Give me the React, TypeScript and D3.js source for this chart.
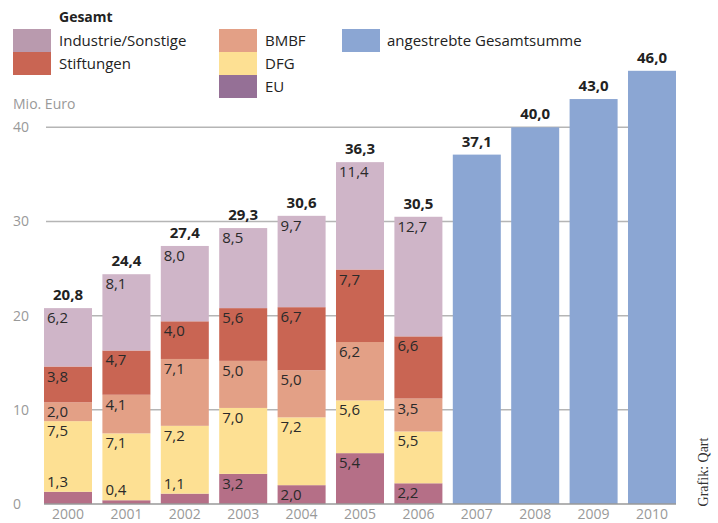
import React from "react";
import * as d3 from "d3";

const years = ["2000","2001","2002","2003","2004","2005","2006","2007","2008","2009","2010"];
const eu = [1.3, 0.4, 1.1, 3.2, 2.0, 5.4, 2.2];
const dfg = [7.5, 7.1, 7.2, 7.0, 7.2, 5.6, 5.5];
const bmbf = [2.0, 4.1, 7.1, 5.0, 5.0, 6.2, 3.5];
const stiftungen = [3.8, 4.7, 4.0, 5.6, 6.7, 7.7, 6.6];
const industrie = [6.2, 8.1, 8.0, 8.5, 9.7, 11.4, 12.7];
const totals = [20.8, 24.4, 27.4, 29.3, 30.6, 36.3, 30.5];
const targets = [37.1, 40.0, 43.0, 46.0];
const yTicks = [0, 10, 20, 30, 40];

const seriesKeys = ["EU", "DFG", "BMBF", "Stiftungen", "Industrie/Sonstige"];
const seriesData = [eu, dfg, bmbf, stiftungen, industrie];
const barColors = ["#b56f87", "#fde093", "#e3a086", "#c96553", "#cfb5c8"];
const legendColors: Record<string, string> = {
  "Industrie/Sonstige": "#b99aae",
  "Stiftungen": "#c96553",
  "BMBF": "#e3a086",
  "DFG": "#fde093",
  "EU": "#957096",
};
const blue = "#8ba6d3";

const fmt = (v: number) => v.toFixed(1).replace(".", ",");
const FONT = "'Open Sans', 'Noto Sans', sans-serif";

export default function App() {
  const W = 718, H = 523;
  const x = d3.scaleBand().domain(years).range([44, 676]).paddingInner(0.178).paddingOuter(0);
  const y = d3.scaleLinear().domain([0, 40]).range([504, 127.3]);
  const bw = x.bandwidth();

  const table = years.slice(0, 7).map((yr, i) => {
    const o: any = { year: yr };
    seriesKeys.forEach((k, j) => (o[k] = seriesData[j][i]));
    return o;
  });
  const stacked = d3.stack().keys(seriesKeys)(table as any);

  return (
    <svg width={W} height={H} style={{ position: "absolute", left: 0, top: 0, fontFamily: FONT }}>
      <rect width={W} height={H} fill="#fff" />
      {/* legend */}
      <text x={59} y={22} fontSize={14} fontWeight="bold" fill="#222">Gesamt</text>
      {[
        { k: "Industrie/Sonstige", sx: 13, sy: 29 },
        { k: "Stiftungen", sx: 13, sy: 52 },
        { k: "BMBF", sx: 219, sy: 29 },
        { k: "DFG", sx: 219, sy: 52 },
        { k: "EU", sx: 219, sy: 75 },
      ].map((l) => (
        <g key={l.k}>
          <rect x={l.sx} y={l.sy} width={38} height={23} fill={legendColors[l.k]} />
          <text x={l.sx + 46} y={l.sy + 17} fontSize={15} fill="#222">{l.k}</text>
        </g>
      ))}
      <rect x={342} y={29} width={38} height={23} fill={blue} />
      <text x={387} y={46} fontSize={15} fill="#222">angestrebte Gesamtsumme</text>

      {/* axis */}
      <text x={13} y={109} fontSize={14} fill="#999">Mio. Euro</text>
      {yTicks.map((t) => (
        <g key={t}>
          {t > 0 && <line x1={46} x2={676} y1={y(t)} y2={y(t)} stroke="#b5b5b5" strokeWidth={1.5} />}
          <text x={13} y={y(t) + 5} fontSize={14} fill="#999">{t}</text>
        </g>
      ))}

      {/* stacked bars */}
      {stacked.map((s, j) => (
        <g key={s.key}>
          {s.map((d: any, i: number) => (
            <rect key={i} x={x(years[i])} y={y(d[1])} width={bw} height={y(d[0]) - y(d[1])} fill={barColors[j]} />
          ))}
        </g>
      ))}
      {stacked.map((s, j) => (
        <g key={s.key + "l"}>
          {s.map((d: any, i: number) => {
            const v = seriesData[j][i];
            const top = y(d[1]);
            const small = j === 0 && v < 1.5;
            return (
              <text key={i} x={(x(years[i]) as number) + 3} y={small ? top - 5 : top + 15} fontSize={15} fill="#2a2a2a">
                {fmt(v)}
              </text>
            );
          })}
        </g>
      ))}
      {totals.map((t, i) => (
        <text key={i} x={(x(years[i]) as number) + bw / 2} y={y(t) - 8} fontSize={15} fontWeight="bold" fill="#222" textAnchor="middle">
          {fmt(t)}
        </text>
      ))}

      {/* target bars */}
      {targets.map((t, i) => (
        <g key={i}>
          <rect x={x(years[7 + i])} y={y(t)} width={bw} height={y(0) - y(t)} fill={blue} />
          <text x={(x(years[7 + i]) as number) + bw / 2} y={y(t) - 8} fontSize={15} fontWeight="bold" fill="#222" textAnchor="middle">
            {fmt(t)}
          </text>
        </g>
      ))}

      <line x1={44} x2={676} y1={y(0)} y2={y(0)} stroke="#999" strokeWidth={1.5} />
      {years.map((yr) => (
        <text key={yr} x={(x(yr) as number) + bw / 2} y={519} fontSize={14} fill="#999" textAnchor="middle">{yr}</text>
      ))}

      <text transform="translate(708,472) rotate(-90)" fontSize={14} fill="#333" textAnchor="middle" fontFamily="'Liberation Serif', 'DejaVu Serif', serif">Grafik: Qart</text>
    </svg>
  );
}
